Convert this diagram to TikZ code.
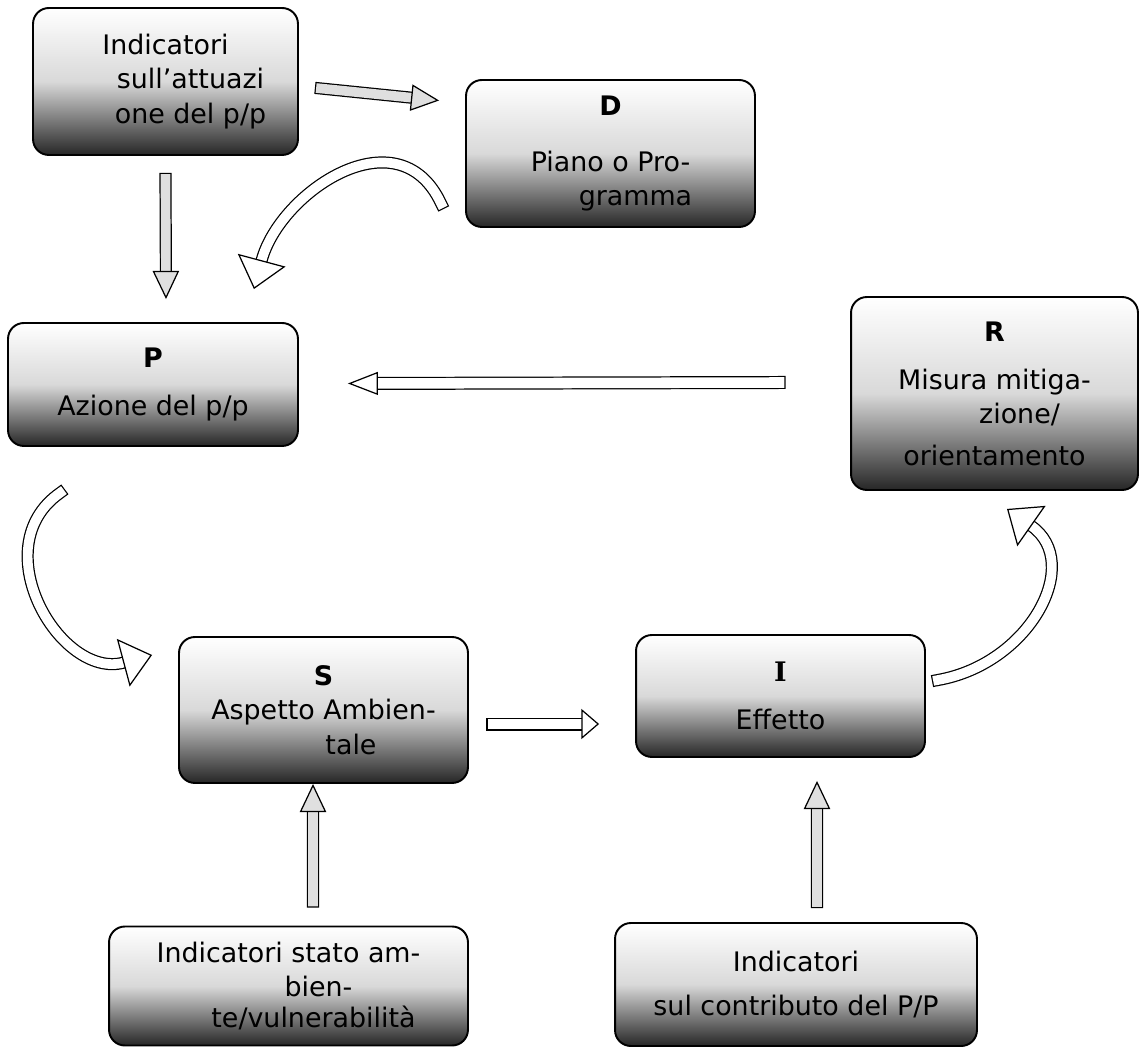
\documentclass[tikz,border=0pt]{standalone}
\usepackage{fontspec}
\setmainfont{DejaVu Sans}
\newfontfamily\headI{DejaVu Serif}
\usetikzlibrary{arrows.meta,calc}

\tikzset{
  box/.style={draw, line width=1.1pt, rounded corners=9pt, top color=white,
    bottom color=black!85, middle color=gray!30, align=center, inner sep=0pt,
    font=\fontsize{15.3}{19.5}\selectfont},
  fatgray/.style={line width=0.7pt, double=gray!25, double distance=5.5pt, line cap=rect,
    -{Triangle[length=16pt, width=15pt, fill=gray!25, line width=0.7pt]}},
  fatwhite/.style={line width=0.7pt, double=white, double distance=6pt, line cap=rect,
    -{Triangle[length=17pt, width=13pt, fill=white, line width=0.7pt]}},
  bentwhite/.style={line width=0.7pt, double=white, double distance=5.5pt, line cap=rect,
    -{Triangle[length=17pt, width=28pt, fill=white, line width=0.7pt]}}
}

\begin{document}
\begin{tikzpicture}[x=0.02cm, y=-0.02cm]
  \useasboundingbox (0,0) rectangle (1140,1047);

  %boxes
  \node[box, minimum width=5.3cm, minimum height=2.94cm] (ind) at (165.5,81.5)
    {Indicatori\\\hspace*{1cm}sull’attuazi\\\hspace*{1cm}one del p/p};
  \node[box, minimum width=5.78cm, minimum height=2.94cm] (D) at (610.5,153.5)
    {\textbf{D}\\[12pt]Piano o Pro-\\\hspace*{1cm}gramma};
  \node[box, minimum width=5.8cm, minimum height=2.46cm] (P) at (153,384.5)
    {\textbf{P}\\[8pt]Azione del p/p};
  \node[box, minimum width=5.74cm, minimum height=3.86cm] (R) at (994.5,393.5)
    {\textbf{R}\\[8pt]Misura mitiga-\\\hspace*{1cm}zione/\\[4pt]orientamento};
  \node[box, minimum width=5.78cm, minimum height=2.92cm] (S) at (323.5,710)
    {\textbf{S}\\Aspetto Ambien-\\\hspace*{1.1cm}tale};
  \node[box, minimum width=5.78cm, minimum height=2.44cm] (I) at (780.5,696)
    {{\headI\bfseries I}\\[8pt]Effetto};
  \node[box, minimum width=7.18cm, minimum height=2.38cm] (isa) at (288.5,986)
    {Indicatori stato am-\\\hspace*{1.2cm}bien-\\[-2pt]\hspace*{1cm}te/vulnerabilità};
  \node[box, minimum width=7.24cm, minimum height=2.46cm] (icp) at (796,984.5)
    {Indicatori\\[6pt]sul contributo del P/P};

  %straight arrows
  \draw[fatgray] ([shift={(22,7)}]ind.east) -- ([shift={(-26,-53)}]D.west);
  \draw[fatgray] ([shift={(0,23)}]ind.south) -- ([shift={(13,-23)}]P.north);
  \draw[fatwhite] ([shift={(-71,-11)}]R.west) -- ([shift={(49,-1)}]P.east);
  \draw[fatwhite, -{Triangle[length=10pt, width=17pt, fill=white, line width=0.7pt]}]
    ([shift={(24,14)}]S.east) -- ([shift={(-36,28)}]I.west);
  \draw[fatgray] ([shift={(24.5,-24)}]isa.north) -- (S.south -| 313,0);
  \draw[fatgray] ([shift={(21,-20)}]icp.north) -- ([shift={(36.5,23)}]I.south);

  %curved arrows
  \draw[bentwhite] ([shift={(-24,50)}]D.west) to[out=115, in=75, looseness=1.25]
    ([shift={(-45,-33)}]P.north east);
  \draw[bentwhite] ([shift={(-93,46)}]P.south) to[out=215, in=195, looseness=1.3]
    ([shift={(-26,-55)}]S.west);
  \draw[bentwhite] ([shift={(12,-16)}]I.east) to[out=10, in=-35, looseness=1.3]
    ([shift={(12.5,18)}]R.south);
\end{tikzpicture}
\end{document}
